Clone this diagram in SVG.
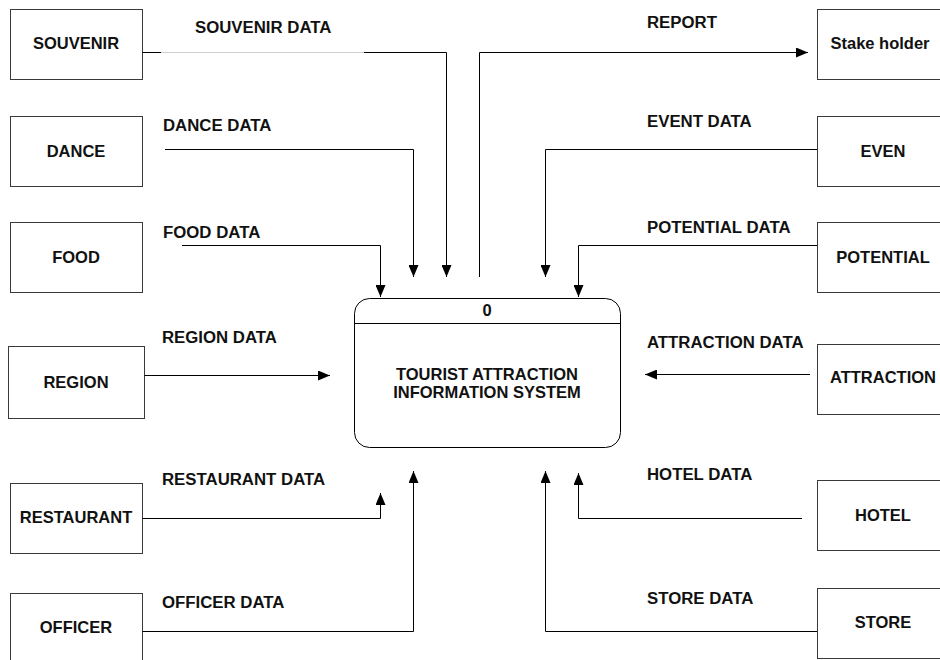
<svg xmlns="http://www.w3.org/2000/svg" width="940" height="660" viewBox="0 0 940 660">
  <style>
    .ent { fill: #ffffff; stroke: #3a3a3a; stroke-width: 1; }
    .proc { fill: #ffffff; stroke: #000000; stroke-width: 1; }
    .lbl { font-family: "Liberation Sans", Arial, sans-serif; font-weight: bold; font-size: 16.5px; fill: #111111; }
    .flbl { font-size: 16.8px; }
    .mid { text-anchor: middle; }
    .flow { fill: none; stroke: #000000; stroke-width: 1; marker-end: url(#arrow); }
    .line { fill: none; stroke: #000000; stroke-width: 1; }
  </style>
  <defs>
    <marker id="arrow" viewBox="0 0 12 10" refX="12" refY="5" markerWidth="12" markerHeight="10" markerUnits="userSpaceOnUse" orient="auto">
      <path d="M0,0 L12,5 L0,10 Z" fill="#000000"/>
    </marker>
  </defs>
  <rect width="940" height="660" fill="#ffffff"/>

  <!-- external entities, left column -->
  <g id="souvenir"><rect class="ent" x="10.5" y="9.5" width="132" height="70"/><text class="lbl mid" x="76" y="49">SOUVENIR</text></g>
  <g id="dance"><rect class="ent" x="10.5" y="116.5" width="132" height="70"/><text class="lbl mid" x="76" y="157">DANCE</text></g>
  <g id="food"><rect class="ent" x="10.5" y="222.5" width="132" height="70"/><text class="lbl mid" x="76" y="263">FOOD</text></g>
  <g id="region"><rect class="ent" x="8.5" y="346.5" width="136" height="72"/><text class="lbl mid" x="76" y="388">REGION</text></g>
  <g id="restaurant"><rect class="ent" x="10.5" y="483.5" width="132" height="70"/><text class="lbl mid" x="76" y="523">RESTAURANT</text></g>
  <g id="officer"><rect class="ent" x="10.5" y="593.5" width="132" height="72"/><text class="lbl mid" x="76" y="633">OFFICER</text></g>

  <!-- external entities, right column -->
  <g id="stakeholder"><rect class="ent" x="817.5" y="9.5" width="130" height="70"/><text class="lbl mid" x="880" y="49">Stake holder</text></g>
  <g id="even"><rect class="ent" x="817.5" y="116.5" width="130" height="70"/><text class="lbl mid" x="883" y="157">EVEN</text></g>
  <g id="potential"><rect class="ent" x="817.5" y="222.5" width="130" height="70"/><text class="lbl mid" x="883" y="263">POTENTIAL</text></g>
  <g id="attraction"><rect class="ent" x="817.5" y="344.5" width="130" height="70"/><text class="lbl mid" x="883" y="383">ATTRACTION</text></g>
  <g id="hotel"><rect class="ent" x="817.5" y="480.5" width="130" height="70"/><text class="lbl mid" x="883" y="521">HOTEL</text></g>
  <g id="store"><rect class="ent" x="817.5" y="588.5" width="130" height="70"/><text class="lbl mid" x="883" y="628">STORE</text></g>

  <!-- central process -->
  <g id="process0">
    <rect class="proc" x="354.5" y="298.5" width="266" height="149" rx="15" ry="15"/>
    <line class="line" x1="354.5" y1="323.5" x2="620.5" y2="323.5"/>
    <text class="lbl mid" x="487" y="316">0</text>
    <text class="lbl mid" x="487" y="380">TOURIST ATTRACTION</text>
    <text class="lbl mid" x="487" y="398">INFORMATION SYSTEM</text>
  </g>

  <!-- data flows -->
  <g id="connectors">
    <path class="line" d="M142.5,52.5 H161"/>
    <path d="M161,52.5 H364" fill="none" stroke="#d0d0d0" stroke-width="1"/>
    <path class="flow" d="M364,52.5 H446.5 V277"/>
    <path class="flow" d="M165,149.5 H413.5 V277"/>
    <path class="flow" d="M182,245.5 H380.5 V297"/>
    <path class="flow" d="M144.5,375.5 H330"/>
    <path class="flow" d="M142.5,518.5 H380.5 V493"/>
    <path class="flow" d="M142.5,631.5 H413.5 V471"/>
    <path class="flow" d="M479.5,277 V52.5 H808"/>
    <path class="flow" d="M817,149.5 H545.5 V277"/>
    <path class="flow" d="M817,245.5 H578.5 V297"/>
    <path class="flow" d="M810,374.5 H645"/>
    <path class="flow" d="M802,518.5 H578.5 V473"/>
    <path class="flow" d="M817,631.5 H545.5 V471"/>
  </g>

  <!-- flow labels -->
  <g id="flow-labels">
    <text class="lbl flbl" x="195" y="33">SOUVENIR DATA</text>
    <text class="lbl flbl" x="163" y="131">DANCE DATA</text>
    <text class="lbl flbl" x="163" y="238">FOOD DATA</text>
    <text class="lbl flbl" x="162" y="343">REGION DATA</text>
    <text class="lbl flbl" x="162" y="485">RESTAURANT DATA</text>
    <text class="lbl flbl" x="162" y="608">OFFICER DATA</text>
    <text class="lbl flbl" x="647" y="28">REPORT</text>
    <text class="lbl flbl" x="647" y="127">EVENT DATA</text>
    <text class="lbl flbl" x="647" y="233">POTENTIAL DATA</text>
    <text class="lbl flbl" x="647" y="348">ATTRACTION DATA</text>
    <text class="lbl flbl" x="647" y="480">HOTEL DATA</text>
    <text class="lbl flbl" x="647" y="604">STORE DATA</text>
  </g>
</svg>
